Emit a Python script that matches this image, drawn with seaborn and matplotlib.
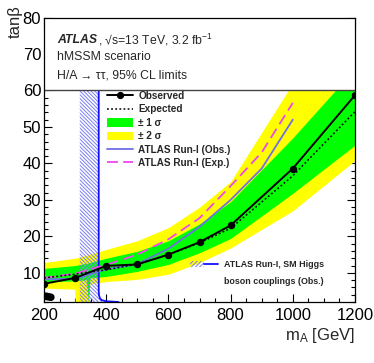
import numpy as np
import pandas as pd
import seaborn as sns
import matplotlib.pyplot as plt
from matplotlib.lines import Line2D
from matplotlib.patches import Patch
from matplotlib.legend_handler import HandlerTuple
from matplotlib.ticker import MultipleLocator

# observed / expected limits (tan beta vs m_A)
mA_obs = [200, 300, 400, 500, 600, 700, 800, 1000, 1200]
tanb_obs = [7.0, 8.6, 11.9, 12.3, 15.0, 18.4, 23.0, 38.6, 58.7]
mA_exp = [200, 300, 350, 400, 500, 600, 700, 800, 1000, 1200]
tanb_exp = [8.6, 9.6, 10.3, 10.8, 12.4, 15.0, 18.2, 22.2, 36.6, 54.2]

# low tan beta observed island
mA_low = [204, 222]
tanb_low = [3.6, 3.3]

# expected bands
mA_band = [200, 299, 300, 336, 343, 348, 400, 500, 600, 700, 800, 1000, 1200]
green_lo = [7.5, 7.8, 7.8, 8.1, 2.0, 8.6, 9.0, 10.4, 12.3, 15.5, 19.4, 31.8, 45.0]
green_hi = [11.2, 12.0, 12.0, 12.6, 12.7, 12.8, 14.0, 15.9, 18.8, 23.4, 29.5, 47.0, 66.0]
yellow_lo = [5.8, 5.5, 2.0, 2.0, 2.0, 7.0, 7.6, 8.2, 9.6, 12.8, 16.8, 27.0, 40.8]
yellow_hi = [12.8, 14.0, 14.0, 14.8, 15.0, 15.1, 16.4, 18.8, 22.4, 28.0, 35.0, 62.0, 80.0]

# ATLAS Run-I results
mA_run1 = [200, 300, 400, 500, 600, 700, 800, 900, 1000]
run1_obs = [8.2, 8.4, 11.0, 12.4, 16.6, 22.6, 30.0, 38.6, 52.0]
run1_exp = [8.6, 9.8, 12.2, 15.0, 19.2, 25.0, 33.8, 43.0, 56.6]

# Run-I SM Higgs boson couplings exclusion
mA_hc = [376, 376, 377, 380, 386, 400, 440]
tanb_hc = [60, 5.0, 3.8, 3.0, 2.5, 2.2, 2.0]
hc_left = 315

sns.set_style("ticks")
plt.rcParams['font.family'] = ['Liberation Sans', 'DejaVu Sans']
plt.rcParams['mathtext.fontset'] = 'custom'
plt.rcParams['mathtext.rm'] = 'Liberation Sans'
plt.rcParams['mathtext.it'] = 'Liberation Sans:italic'
plt.rcParams['hatch.linewidth'] = 0.7

fig = plt.figure(figsize=(3.74, 3.63), dpi=100)
ax = fig.add_axes([44 / 374, 1 - 302 / 363, 311 / 374, 284.5 / 363])

green = '#00ff00'
yellow = '#ffff00'
hatch_col = '#7c7cf4'
run1_obs_col = '#6f6fe6'
run1_exp_col = '#f044f0'

ax.fill_between(mA_band, yellow_lo, yellow_hi, color=yellow, lw=0, zorder=1)
ax.fill_between(mA_band, green_lo, green_hi, color=green, lw=0, zorder=1.5)

ax.fill_betweenx(tanb_hc, hc_left, mA_hc, facecolor='none', edgecolor=hatch_col,
                 hatch='\\' * 9, lw=0, zorder=2)
sns.lineplot(x=mA_hc, y=tanb_hc, ax=ax, color='#1010ff', lw=1.3, sort=False,
             estimator=None, legend=False, zorder=3)

sns.lineplot(x=mA_run1, y=run1_obs, ax=ax, color=run1_obs_col, lw=1.3,
             sort=False, estimator=None, legend=False, zorder=3)
sns.lineplot(x=mA_run1, y=run1_exp, ax=ax, color=run1_exp_col, lw=1.3,
             dashes=False, sort=False, estimator=None, legend=False, zorder=3)
ax.lines[-1].set_dashes((6, 3))

sns.lineplot(x=mA_exp, y=tanb_exp, ax=ax, color='black', lw=1.1, sort=False,
             estimator=None, legend=False, zorder=3.5)
ax.lines[-1].set_dashes((1.2, 1.5))
sns.lineplot(x=mA_obs, y=tanb_obs, ax=ax, color='black', lw=1.4, marker='o',
             markersize=4.6, markeredgecolor='black', sort=False,
             estimator=None, legend=False, zorder=4)
ax.plot(mA_low, tanb_low, color='black', lw=5.5, solid_capstyle='round', zorder=4)

# white header region above tan beta = 60
ax.axhspan(60, 80, facecolor='white', lw=0, zorder=4.5)
ax.axhline(60, color='#444444', lw=1.0, zorder=4.6)

ax.set_xlim(200, 1200)
ax.set_ylim(2, 80)
ax.xaxis.set_major_locator(MultipleLocator(200))
ax.xaxis.set_minor_locator(MultipleLocator(50))
ax.yaxis.set_major_locator(MultipleLocator(10))
ax.yaxis.set_minor_locator(MultipleLocator(2))
ax.tick_params(which='both', direction='in', top=True, right=True,
               labelsize=12, width=0.8, colors='black')
ax.tick_params(which='major', length=6)
ax.tick_params(which='minor', length=3)
ax.tick_params(axis='x', pad=4)
ax.tick_params(axis='y', pad=2)
for s in ax.spines.values():
    s.set_linewidth(0.9)
    s.set_color('black')
    s.set_zorder(6)

ax.set_xlabel('m$_\\mathrm{A}$ [GeV]', fontsize=12, loc='right', labelpad=2.5)
ax.set_ylabel('')
fig.text(15 / 374, 1 - 22 / 363, 'tanβ', rotation=90, fontsize=12,
         ha='center', va='center')

# header text
t1 = fig.text(57 / 374, 1 - 40 / 363, 'ATLAS', fontsize=8.8, fontweight='bold',
              fontstyle='italic', ha='left', va='center', zorder=7)
ax.annotate(', √s=13 TeV, 3.2 fb$^{-1}$', xy=(1, 0.5), xycoords=t1,
            xytext=(1, 0), textcoords='offset points', fontsize=8.8,
            ha='left', va='center', zorder=7)
fig.text(57 / 374, 1 - 57 / 363, 'hMSSM scenario', fontsize=8.8,
         ha='left', va='center', zorder=7)
fig.text(57 / 374, 1 - 75 / 363, 'H/A → ττ, 95% CL limits', fontsize=8.8,
         ha='left', va='center', zorder=7)

# main legend
handles = [
    Line2D([], [], color='black', lw=1.4, marker='o', markersize=4.2),
    Line2D([], [], color='black', lw=1.1, dashes=(1.2, 1.5)),
    Patch(facecolor=green, lw=0),
    Patch(facecolor=yellow, lw=0),
    Line2D([], [], color=run1_obs_col, lw=1.3),
    Line2D([], [], color=run1_exp_col, lw=1.3, dashes=(6, 3)),
]
labels = ['Observed', 'Expected', '± 1 σ', '± 2 σ',
          'ATLAS Run-I (Obs.)', 'ATLAS Run-I (Exp.)']
leg = ax.legend(handles, labels, loc='upper left',
                bbox_to_anchor=(107 / 374, 1 - 91 / 363),
                bbox_transform=fig.transFigure, frameon=False,
                prop={'size': 7.2, 'weight': 'bold'}, borderpad=0,
                borderaxespad=0, handlelength=2.55, handletextpad=0.6,
                labelspacing=0.34, handleheight=0.9)
leg.set_zorder(8)
ax.add_artist(leg)

# SM Higgs couplings legend
hc_handle = (Patch(facecolor='none', edgecolor=hatch_col, hatch='/' * 8, lw=0),
             Line2D([], [], color='#1010ff', lw=1.3))
leg2 = ax.legend([hc_handle, Line2D([], [], color='none')],
                 ['ATLAS Run-I, SM Higgs', 'boson couplings (Obs.)'],
                 handler_map={tuple: HandlerTuple(ndivide=None, pad=0)},
                 loc='upper left', bbox_to_anchor=(190 / 374, 1 - 260 / 363),
                 bbox_transform=fig.transFigure, frameon=False,
                 prop={'size': 6.4, 'weight': 'bold'}, borderpad=0,
                 borderaxespad=0, handlelength=3.16, handletextpad=0.68,
                 labelspacing=0.85)
leg2.set_zorder(8)

fig.savefig('out.png', dpi=100)
